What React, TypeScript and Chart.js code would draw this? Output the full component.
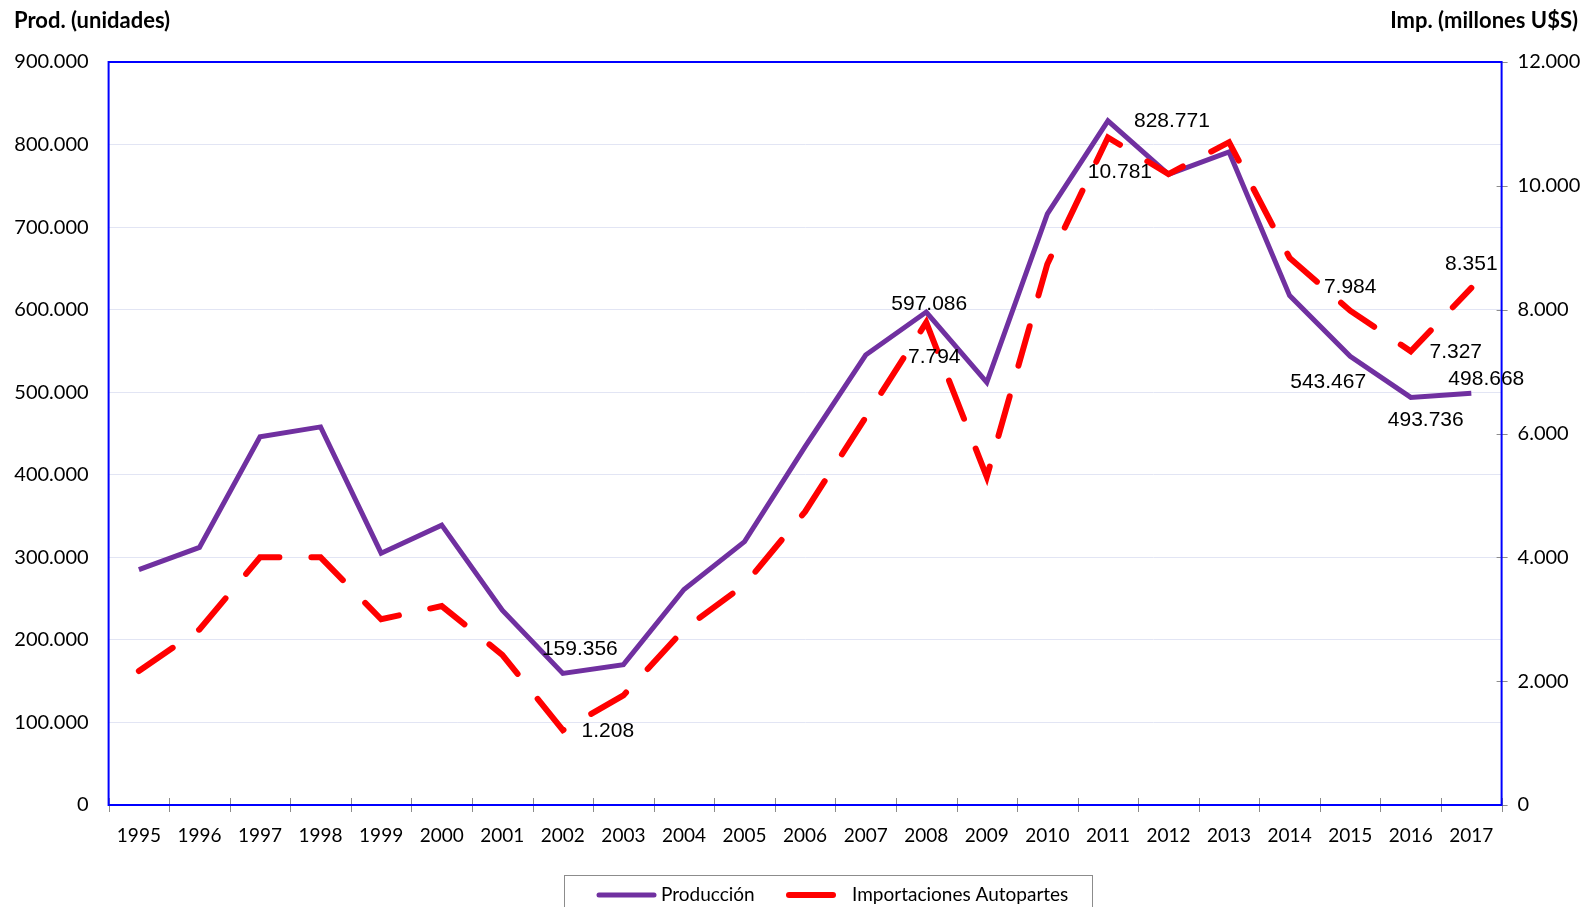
import { useEffect, useRef } from 'react';
import { Chart, registerables } from 'chart.js';

Chart.register(...registerables);

const years = ['1995', '1996', '1997', '1998', '1999', '2000', '2001', '2002', '2003', '2004', '2005', '2006', '2007', '2008', '2009', '2010', '2011', '2012', '2013', '2014', '2015', '2016', '2017'];
const produccion = [285000, 312000, 446000, 458000, 305000, 339000, 236000, 159356, 170000, 261000, 319000, 434000, 545000, 597086, 512000, 716000, 828771, 764000, 791000, 617000, 543467, 493736, 498668];
const importaciones = [2164, 2836, 4000, 4000, 3000, 3213, 2426, 1208, 1770, 2836, 3557, 4738, 6262, 7794, 5300, 8738, 10781, 10190, 10705, 8836, 7984, 7327, 8351];

const prodMax = 900000;
const prodStep = 100000;
const impMax = 12000;
const impStep = 2000;

const titleLeft = 'Prod. (unidades)';
const titleRight = 'Imp. (millones U$S)';
const serieProd = 'Producción';
const serieImp = 'Importaciones Autopartes';

const PURPLE = '#7030A0';
const RED = '#FF0000';
const TICK_FONT = 'Lato, "Open Sans", sans-serif';

function fmt(n: number): string {
  return Math.round(n).toString().replace(/\B(?=(\d{3})+(?!\d))/g, '.');
}

// data label placement (index, dx, dy) relative to the point
const prodLabelPos = [
  { i: 7, dx: 17, dy: -24 },
  { i: 13, dx: 3, dy: -8 },
  { i: 16, dx: 64, dy: 0 },
  { i: 20, dx: -22, dy: 26 },
  { i: 21, dx: 15, dy: 23 },
  { i: 22, dx: 15, dy: -14 },
];
const impLabelPos = [
  { i: 7, dx: 45, dy: 1 },
  { i: 13, dx: 8, dy: 35 },
  { i: 16, dx: 12, dy: 35 },
  { i: 20, dx: 0, dy: -23 },
  { i: 21, dx: 45, dy: 1 },
  { i: 22, dx: 0, dy: -24 },
];

const decorPlugin = {
  id: 'decor',
  afterDraw(chart: any) {
    const { ctx, chartArea: a, scales } = chart;
    ctx.save();
    // tick marks
    const x = scales.x;
    const step = x.getPixelForValue(1) - x.getPixelForValue(0);
    ctx.strokeStyle = '#8c8c8c';
    ctx.lineWidth = 1;
    ctx.beginPath();
    for (let i = 0; i <= years.length; i++) {
      const px = Math.round(x.getPixelForValue(0) - step / 2 + i * step) + 0.5;
      ctx.moveTo(px, a.bottom - 7);
      ctx.lineTo(px, a.bottom + 7);
    }
    const y1 = scales.y1;
    y1.ticks.forEach((t: any) => {
      const py = Math.round(y1.getPixelForValue(t.value)) + 0.5;
      ctx.moveTo(a.right - 5, py);
      ctx.lineTo(a.right + 6, py);
    });
    ctx.stroke();

    // plot border
    ctx.strokeStyle = '#0000FF';
    ctx.lineWidth = 2;
    ctx.strokeRect(a.left, a.top, a.right - a.left, a.bottom - a.top);

    // data labels
    ctx.fillStyle = '#000';
    ctx.font = '21px "Liberation Sans", Arial, sans-serif';
    ctx.textAlign = 'center';
    ctx.textBaseline = 'middle';
    const m0 = chart.getDatasetMeta(0);
    const m1 = chart.getDatasetMeta(1);
    prodLabelPos.forEach((p) => {
      const el = m0.data[p.i];
      ctx.fillText(fmt(produccion[p.i]), el.x + p.dx, el.y + p.dy);
    });
    impLabelPos.forEach((p) => {
      const el = m1.data[p.i];
      ctx.fillText(fmt(importaciones[p.i]), el.x + p.dx, el.y + p.dy);
    });

    // axis titles
    ctx.font = 'bold 22px ' + TICK_FONT;
    ctx.textBaseline = 'alphabetic';
    ctx.textAlign = 'left';
    ctx.fillText(titleLeft, 14, 28);
    ctx.textAlign = 'right';
    ctx.fillText(titleRight, 1578, 28);

    // legend
    ctx.strokeStyle = '#8c8c8c';
    ctx.lineWidth = 1;
    ctx.strokeRect(564.5, 875.5, 528, 60);
    ctx.lineCap = 'round';
    ctx.strokeStyle = PURPLE;
    ctx.lineWidth = 5;
    ctx.beginPath();
    ctx.moveTo(599, 895);
    ctx.lineTo(654, 895);
    ctx.stroke();
    ctx.strokeStyle = RED;
    ctx.lineWidth = 6;
    ctx.beginPath();
    ctx.moveTo(789, 895);
    ctx.lineTo(833, 895);
    ctx.stroke();
    ctx.fillStyle = '#000';
    ctx.font = '19px ' + TICK_FONT;
    ctx.textAlign = 'left';
    ctx.textBaseline = 'middle';
    ctx.fillText(serieProd, 661, 895);
    ctx.fillText(serieImp, 852, 895);
    ctx.restore();
  },
};

export default function App() {
  const ref = useRef<HTMLCanvasElement>(null);
  useEffect(() => {
    document.body.style.margin = '0';
    if (!ref.current) return;
    const chart = new Chart(ref.current, {
      type: 'line',
      data: {
        labels: years,
        datasets: [
          {
            label: serieProd,
            data: produccion,
            yAxisID: 'y',
            borderColor: PURPLE,
            backgroundColor: PURPLE,
            borderWidth: 5,
            pointRadius: 0,
            tension: 0,
            fill: false,
            order: 1,
          },
          {
            label: serieImp,
            data: importaciones,
            yAxisID: 'y1',
            borderColor: RED,
            backgroundColor: RED,
            borderWidth: 6,
            borderDash: [41, 32],
            borderCapStyle: 'round',
            pointRadius: 0,
            tension: 0,
            fill: false,
            order: 0,
          },
        ],
      },
      options: {
        responsive: false,
        animation: false,
        events: [],
        layout: { padding: { top: 62, left: 0, right: 0, bottom: 0 } },
        plugins: { legend: { display: false }, tooltip: { enabled: false } },
        scales: {
          x: {
            type: 'category',
            offset: true,
            grid: { display: false, drawTicks: false },
            border: { display: false },
            ticks: {
              autoSkip: false,
              maxRotation: 0,
              padding: 19,
              color: '#000',
              font: { family: TICK_FONT, size: 19 },
            },
            afterFit: (s: any) => { s.height = 102; },
          },
          y: {
            position: 'left',
            min: 0,
            max: prodMax,
            grid: { color: '#e2e5f4', lineWidth: 1, drawTicks: false },
            border: { display: false },
            ticks: {
              stepSize: prodStep,
              padding: 20,
              color: '#000',
              font: { family: TICK_FONT, size: 20 },
              callback: (v: any) => fmt(Number(v)),
            },
            afterFit: (s: any) => { s.width = 108.6; },
          },
          y1: {
            position: 'right',
            min: 0,
            max: impMax,
            grid: { display: false, drawTicks: false },
            border: { display: false },
            ticks: {
              stepSize: impStep,
              padding: 16,
              color: '#000',
              font: { family: TICK_FONT, size: 20 },
              callback: (v: any) => fmt(Number(v)),
            },
            afterFit: (s: any) => { s.width = 90.4; },
          },
        },
      },
      plugins: [decorPlugin],
    } as any);
    return () => chart.destroy();
  }, []);
  return (
    <div style={{ width: 1592, height: 907, position: 'relative', overflow: 'hidden' }}>
      <canvas ref={ref} width={1592} height={907} style={{ display: 'block' }} />
    </div>
  );
}
